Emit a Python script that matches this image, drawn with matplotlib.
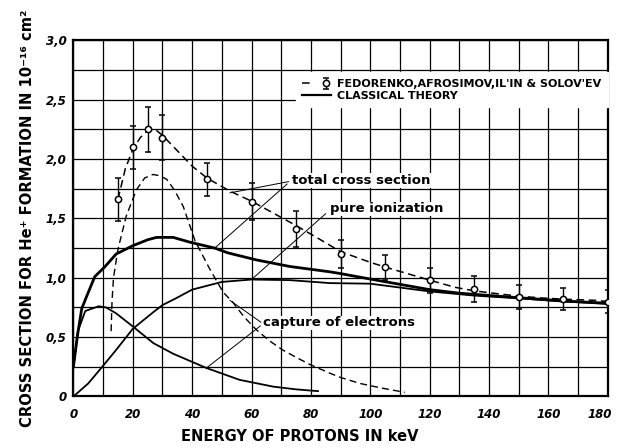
import matplotlib
matplotlib.use("Agg")
import matplotlib.pyplot as plt
from matplotlib.lines import Line2D
from matplotlib.legend_handler import HandlerTuple
from matplotlib.transforms import ScaledTranslation

# Fedorenko, Afrosimov, Il'in & Solov'ev -- measured points (keV, 1e-16 cm^2)
EXP_ENERGY = [15, 20, 25, 30, 45, 60, 75, 90, 105, 120, 135, 150, 165, 180]
EXP_SIGMA = [1.66, 2.10, 2.25, 2.18, 1.83, 1.64, 1.41, 1.20, 1.09, 0.98, 0.905, 0.84, 0.82, 0.80]
EXP_ERR = [0.18, 0.18, 0.19, 0.19, 0.14, 0.155, 0.15, 0.12, 0.105, 0.105, 0.11, 0.10, 0.09, 0.10]

# dashed curves (experimental)
EXP_TOTAL_E = [15, 17.5, 20, 22.5, 25, 27.5, 30, 35, 40, 45, 52.7, 60, 68.4, 75, 85.3, 90,
               100, 105, 120, 128.5, 135, 143, 150, 157.6, 165, 175.6, 180]
EXP_TOTAL_S = [1.66, 1.92, 2.08, 2.18, 2.24, 2.25, 2.20, 2.07, 1.94, 1.84, 1.73, 1.645, 1.53, 1.44,
               1.29, 1.22, 1.13, 1.09, 0.98, 0.92, 0.89, 0.865, 0.845, 0.83, 0.82, 0.81, 0.80]
EXP_CAPTURE_E = [12.7, 13.0, 13.5, 15, 17.8, 21.2, 24, 26.8, 29, 31.4, 34, 37, 41, 46, 50.4,
                 53.8, 57.5, 61.7, 66, 70.6, 75, 79.6, 86.4, 90, 96.5, 104, 111.6]
EXP_CAPTURE_S = [0.55, 0.80, 1.00, 1.24, 1.52, 1.74, 1.84, 1.87, 1.86, 1.83, 1.74, 1.60, 1.31,
                 1.07, 0.88, 0.79, 0.67, 0.56, 0.47, 0.39, 0.33, 0.27, 0.196, 0.16, 0.11, 0.07, 0.035]

# solid curves (classical theory)
TH_TOTAL_E = [0, 1.4, 2.8, 4.4, 7.2, 10.5, 14.4, 20, 25, 28, 33.6, 39.2, 47.6, 52, 61.7, 72.9,
              86.4, 90, 99.8, 120, 130, 151, 165, 180]
TH_TOTAL_S = [0.25, 0.52, 0.74, 0.84, 1.01, 1.09, 1.20, 1.27, 1.32, 1.34, 1.34, 1.30, 1.25, 1.21,
              1.15, 1.095, 1.05, 1.035, 0.99, 0.90, 0.87, 0.83, 0.805, 0.785]
TH_ION_E = [0, 5, 8.7, 14, 20, 26.9, 30, 34, 40, 50, 60, 72.9, 86.4, 100, 120, 135, 151, 165, 180]
TH_ION_S = [0, 0.11, 0.22, 0.38, 0.57, 0.71, 0.77, 0.82, 0.90, 0.965, 0.985, 0.98, 0.955, 0.95,
            0.885, 0.85, 0.825, 0.80, 0.78]
TH_CAPTURE_E = [0, 1.5, 4, 8.5, 11, 14.4, 20, 26.9, 33.6, 39.2, 44.8, 56, 67.3, 75, 82.4]
TH_CAPTURE_S = [0.25, 0.55, 0.72, 0.76, 0.75, 0.70, 0.59, 0.45, 0.36, 0.30, 0.24, 0.14, 0.083,
                0.06, 0.045]

X_TICKS = [0, 20, 40, 60, 80, 100, 120, 140, 160, 180]
Y_TICKS = [0, 0.5, 1.0, 1.5, 2.0, 2.5, 3.0]
Y_TICK_LABELS = ["0", "0,5", "1,0", "1,5", "2,0", "2,5", "3,0"]

DASHES = (5, 3)


def main() -> None:
    plt.rcParams["font.family"] = "DejaVu Sans"
    fig = plt.figure(figsize=(6.17, 4.48), dpi=100)
    ax = fig.add_axes([0.119, 0.115, 0.866, 0.795])

    ax.set_xlim(0, 180)
    ax.set_ylim(0, 3.0)
    ax.set_xticks(X_TICKS)
    ax.set_xticks(range(10, 180, 20), minor=True)
    ax.set_yticks(Y_TICKS)
    ax.set_yticks([0.25, 0.75, 1.25, 1.75, 2.25, 2.75], minor=True)
    ax.set_yticklabels(Y_TICK_LABELS)
    ax.grid(True, which="both", color="black", lw=0.9)
    ax.set_axisbelow(True)
    ax.tick_params(which="both", length=0)
    ax.tick_params(axis="x", pad=8)
    ax.tick_params(axis="y", pad=5)
    for lab in ax.get_xticklabels() + ax.get_yticklabels():
        lab.set_fontstyle("italic")
        lab.set_fontweight("bold")
        lab.set_fontsize(8.5)
    # last x label sits on the figure edge, nudge it in a little
    last = ax.get_xticklabels()[-1]
    last.set_transform(last.get_transform() + ScaledTranslation(-6 / 72, 0, fig.dpi_scale_trans))
    for sp in ax.spines.values():
        sp.set_linewidth(1.6)

    # experimental
    ax.plot(EXP_TOTAL_E, EXP_TOTAL_S, color="black", lw=1.1, dashes=DASHES)
    ax.plot(EXP_CAPTURE_E, EXP_CAPTURE_S, color="black", lw=1.0, dashes=DASHES)
    eb = ax.errorbar(EXP_ENERGY, EXP_SIGMA, yerr=EXP_ERR, fmt="o", ms=4.5, mfc="white",
                     mec="black", mew=1.1, ecolor="black", elinewidth=1.0, capsize=2.5,
                     capthick=1.0, zorder=5)

    # classical theory
    ax.plot(TH_TOTAL_E, TH_TOTAL_S, color="black", lw=2.0)
    ax.plot(TH_ION_E, TH_ION_S, color="black", lw=1.3)
    ax.plot(TH_CAPTURE_E, TH_CAPTURE_S, color="black", lw=1.3)

    # curve labels with leader lines
    txt = dict(fontsize=9.5, fontweight="bold", va="center", ha="left")
    lead = dict(arrowstyle="-", lw=0.7, color="black", shrinkA=0, shrinkB=0)
    ax.text(73.8, 1.82, "total cross section", bbox=dict(fc="white", ec="none", pad=0.5), **txt)
    ax.annotate("", xy=(52.7, 1.715), xytext=(72.5, 1.81), arrowprops=lead)
    ax.annotate("", xy=(47.6, 1.25), xytext=(72.0, 1.79), arrowprops=lead)
    ax.text(86.5, 1.58, "pure ionization", bbox=dict(fc="white", ec="none", pad=0.5), **txt)
    ax.annotate("", xy=(60.2, 0.99), xytext=(85.0, 1.54), arrowprops=lead)
    ax.text(64.0, 0.62, "capture of electrons", bbox=dict(fc="white", ec="none", pad=0.5), **txt)
    ax.annotate("", xy=(52.7, 0.81), xytext=(63.2, 0.625), arrowprops=lead)
    ax.annotate("", xy=(44.8, 0.24), xytext=(63.0, 0.595), arrowprops=lead)

    # legend
    dash_handle = Line2D([], [], color="black", lw=1.1, dashes=DASHES)
    theory_handle = Line2D([], [], color="black", lw=1.6)
    leg = ax.legend(
        [(dash_handle, eb), theory_handle],
        ["FEDORENKO,AFROSIMOV,IL'IN & SOLOV'EV", "CLASSICAL THEORY"],
        handler_map={tuple: HandlerTuple(ndivide=None)},
        loc="upper right", bbox_to_anchor=(1.0, 0.91), frameon=True, fancybox=False,
        facecolor="white", edgecolor="white", framealpha=1.0, borderaxespad=0.0,
        handlelength=2.6, handletextpad=0.5, labelspacing=0.15, borderpad=0.6,
        prop=dict(size=8, weight="bold"),
    )
    leg.set_zorder(6)

    ax.set_xlabel("ENERGY OF PROTONS IN keV", fontsize=10.5, fontweight="bold")
    ax.xaxis.set_label_coords(0.424, -0.092)
    ax.set_ylabel("CROSS SECTION FOR He\u207a FORMATION IN 10\u207b\u00b9\u2076 cm\u00b2",
                  fontsize=10.6, fontweight="bold")
    ax.yaxis.set_label_coords(-0.072, 0.5)

    fig.savefig("out.png", dpi=100)
    plt.close(fig)


if __name__ == "__main__":
    main()
